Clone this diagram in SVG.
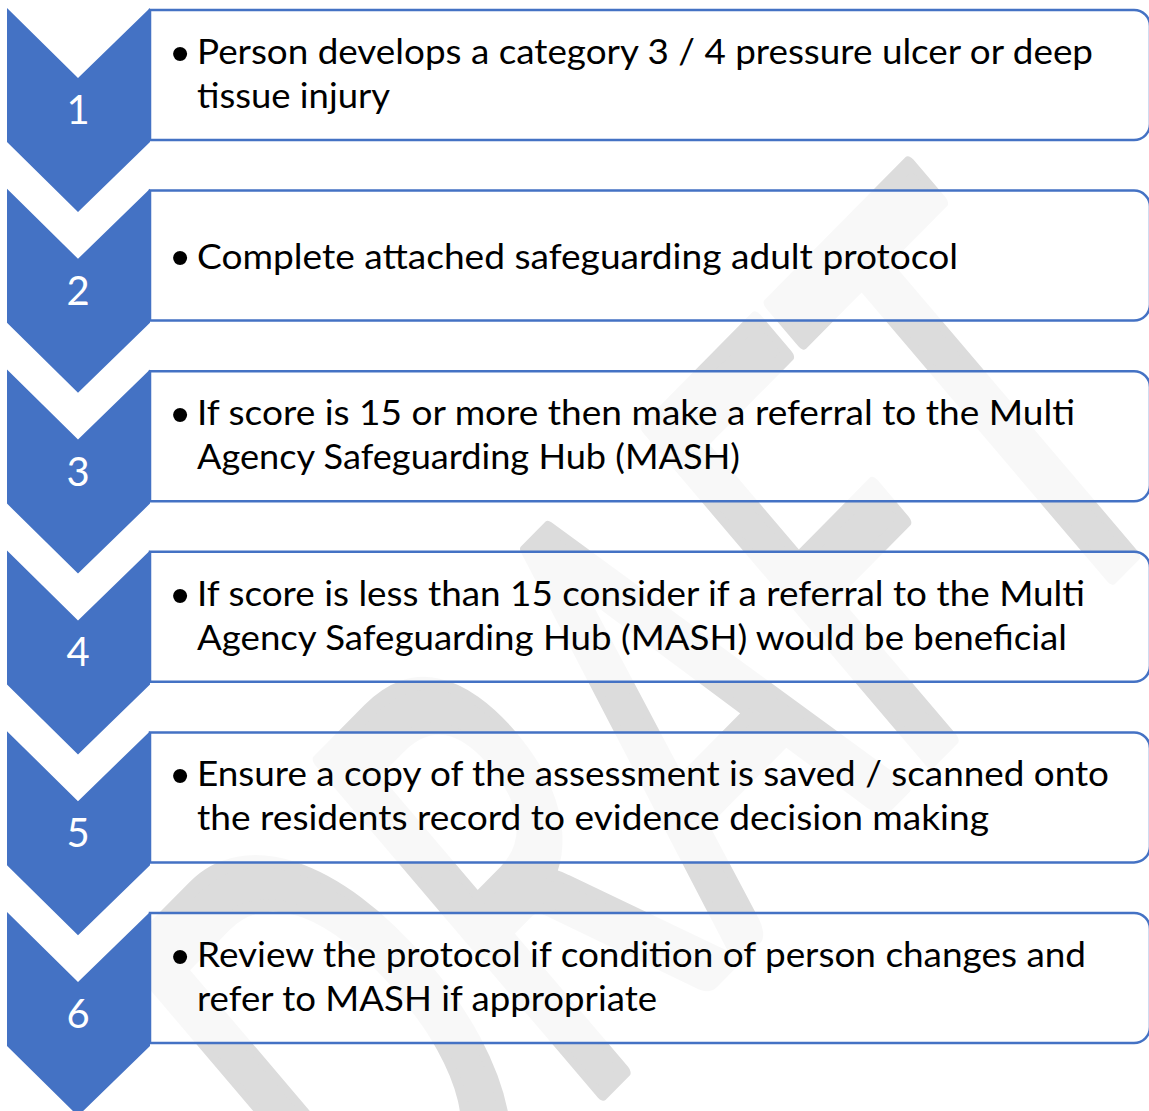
<svg xmlns="http://www.w3.org/2000/svg" width="1149" height="1111" viewBox="0 0 1149 1111">
<style>
.box{fill:#ffffff;fill-opacity:0.8;stroke:#4472C4;stroke-width:2.5}
.chev{fill:#4472C4}
.num{font-family:Lato,"Liberation Sans",sans-serif;font-size:40px;fill:#ffffff;text-anchor:middle}
.txt{font-family:Lato,"Liberation Sans",sans-serif;font-size:34px;fill:#000000}
.bul{font-family:"Liberation Sans",Arial,sans-serif;font-size:52px;fill:#000000;text-anchor:middle}
.wm{font-family:Lato,"Liberation Sans",sans-serif;font-size:100px;fill:#dcdcdc;stroke:#dcdcdc;stroke-width:2.4;stroke-linejoin:round}
</style>
<rect width="1149" height="1111" fill="#ffffff"/>
<g id="watermark">
<text class="wm" transform="matrix(3.023,-3.061,3.943,4.638,386.4,1311.5)" x="0" y="0" textLength="268" lengthAdjust="spacingAndGlyphs">DRAFT</text>
</g>
<g id="connectors"></g>
<g id="node1">
<path class="box" d="M150,10 H1134 A16,16 0 0 1 1150,26 V124 A16,16 0 0 1 1134,140 H150 Z"/>
<polygon class="chev" points="7,8 78,78 150,8 150,142 78,212 7,142"/>
<text class="num" x="78" y="124">1</text>
<text class="bul" x="180" y="70.7">•</text>
<text class="txt" x="197" y="64" textLength="896" lengthAdjust="spacingAndGlyphs">Person develops a category 3 / 4 pressure ulcer or deep</text>
<text class="txt" x="197" y="108" textLength="193" lengthAdjust="spacingAndGlyphs">tissue injury</text>
</g>
<g id="node2">
<path class="box" d="M150,190.6 H1134 A16,16 0 0 1 1150,206.6 V304.6 A16,16 0 0 1 1134,320.6 H150 Z"/>
<polygon class="chev" points="7,188.8 78,258.8 150,188.8 150,322.8 78,392.8 7,322.8"/>
<text class="num" x="78" y="304.8">2</text>
<text class="bul" x="180" y="275.3">•</text>
<text class="txt" x="197" y="268.6" textLength="761" lengthAdjust="spacingAndGlyphs">Complete attached safeguarding adult protocol</text>
</g>
<g id="node3">
<path class="box" d="M150,371.2 H1134 A16,16 0 0 1 1150,387.2 V485.2 A16,16 0 0 1 1134,501.2 H150 Z"/>
<polygon class="chev" points="7,369.6 78,439.6 150,369.6 150,503.6 78,573.6 7,503.6"/>
<text class="num" x="78" y="485.6">3</text>
<text class="bul" x="180" y="431.9">•</text>
<text class="txt" x="197" y="425.2" textLength="878" lengthAdjust="spacingAndGlyphs">If score is 15 or more then make a referral to the Multi</text>
<text class="txt" x="197" y="469.2" textLength="543" lengthAdjust="spacingAndGlyphs">Agency Safeguarding Hub (MASH)</text>
</g>
<g id="node4">
<path class="box" d="M150,551.8 H1134 A16,16 0 0 1 1150,567.8 V665.8 A16,16 0 0 1 1134,681.8 H150 Z"/>
<polygon class="chev" points="7,550.4 78,620.4 150,550.4 150,684.4 78,754.4 7,684.4"/>
<text class="num" x="78" y="666.4">4</text>
<text class="bul" x="180" y="612.5">•</text>
<text class="txt" x="197" y="605.8" textLength="888" lengthAdjust="spacingAndGlyphs">If score is less than 15 consider if a referral to the Multi</text>
<text class="txt" x="197" y="649.8" textLength="870" lengthAdjust="spacingAndGlyphs">Agency Safeguarding Hub (MASH) would be beneficial</text>
</g>
<g id="node5">
<path class="box" d="M150,732.4 H1134 A16,16 0 0 1 1150,748.4 V846.4 A16,16 0 0 1 1134,862.4 H150 Z"/>
<polygon class="chev" points="7,731.2 78,801.2 150,731.2 150,865.2 78,935.2 7,865.2"/>
<text class="num" x="78" y="847.2">5</text>
<text class="bul" x="180" y="793.1">•</text>
<text class="txt" x="197" y="786.4" textLength="912" lengthAdjust="spacingAndGlyphs">Ensure a copy of the assessment is saved / scanned onto</text>
<text class="txt" x="197" y="830.4" textLength="792" lengthAdjust="spacingAndGlyphs">the residents record to evidence decision making</text>
</g>
<g id="node6">
<path class="box" d="M150,913 H1134 A16,16 0 0 1 1150,929 V1027 A16,16 0 0 1 1134,1043 H150 Z"/>
<polygon class="chev" points="7,912 78,982 150,912 150,1046 78,1116 7,1046"/>
<text class="num" x="78" y="1028">6</text>
<text class="bul" x="180" y="973.7">•</text>
<text class="txt" x="197" y="967" textLength="889" lengthAdjust="spacingAndGlyphs">Review the protocol if condition of person changes and</text>
<text class="txt" x="197" y="1011" textLength="460" lengthAdjust="spacingAndGlyphs">refer to MASH if appropriate</text>
</g>
</svg>
